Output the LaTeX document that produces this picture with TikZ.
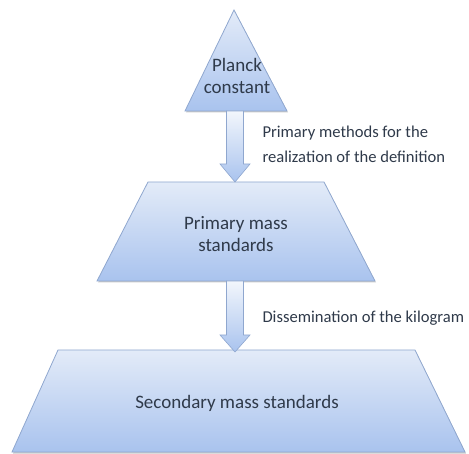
\documentclass[tikz,border=0pt]{standalone}
\usepackage{fontspec}
\setmainfont{Carlito}
\usetikzlibrary{calc,shadows}
\definecolor{edgeblue}{HTML}{8FA7CF}
\definecolor{topblue}{HTML}{E3EBF8}
\definecolor{botblue}{HTML}{A9C3EE}
\definecolor{txt}{HTML}{2F3A4A}
\definecolor{arrtop}{HTML}{F2F6FC}
\definecolor{arrbot}{HTML}{A9C3EE}
\tikzset{
  level/.style={draw=edgeblue, line width=0.8pt, top color=topblue, bottom color=botblue,
    drop shadow={shadow xshift=1pt, shadow yshift=-1.5pt, opacity=0.35, fill=black!60}},
  blockarrow/.style={draw=edgeblue, line width=0.6pt, top color=arrtop, bottom color=arrbot},
  lbl/.style={text=txt, font=\fontsize{19}{22}\selectfont, align=center},
  side/.style={text=txt, font=\fontsize{16.6}{25}\selectfont, align=left, anchor=west},
}
\begin{document}
\begin{tikzpicture}[x=1pt,y=1pt]
\useasboundingbox (0,0) rectangle (469,453);
% level shapes (y = 453 - pixel row)
\path[level] (234,443) -- (287,342) -- (185,342) -- cycle;
\path[level] (148,271) -- (324,271) -- (375,172) -- (97,172) -- cycle;
\path[level] (58,103) -- (415,103) -- (465,1) -- (12,1) -- cycle;
% named anchor coordinates for connectors
\coordinate (tri) at (235,342);
\coordinate (p2top) at (235,271);
\coordinate (p2bot) at (235,172);
\coordinate (p3top) at (235,101);
% block arrows
\path[blockarrow] ($(tri)+(-8.5,0)$) -- ($(tri)+(8.5,0)$) -- ($(p2top)+(8.5,18)$) -- ($(p2top)+(15,18)$)
  -- (p2top) -- ($(p2top)+(-15,18)$) -- ($(p2top)+(-8.5,18)$) -- cycle;
\path[blockarrow] ($(p2bot)+(-8.5,0)$) -- ($(p2bot)+(8.5,0)$) -- ($(p3top)+(8.5,17)$) -- ($(p3top)+(15,17)$)
  -- (p3top) -- ($(p3top)+(-15,17)$) -- ($(p3top)+(-8.5,17)$) -- cycle;
% labels
\node[lbl] (planck) at (237,377) {Planck\\constant};
\node[lbl] (primary) at (236,219) {Primary mass\\standards};
\node[lbl] (secondary) at (237,50) {Secondary mass standards};
\node[side] (m1) at (259,309) {Primary methods for the\\realization of the definition};
\node[side] (m2) at (259,135) {Dissemination of the kilogram};
\end{tikzpicture}
\end{document}
